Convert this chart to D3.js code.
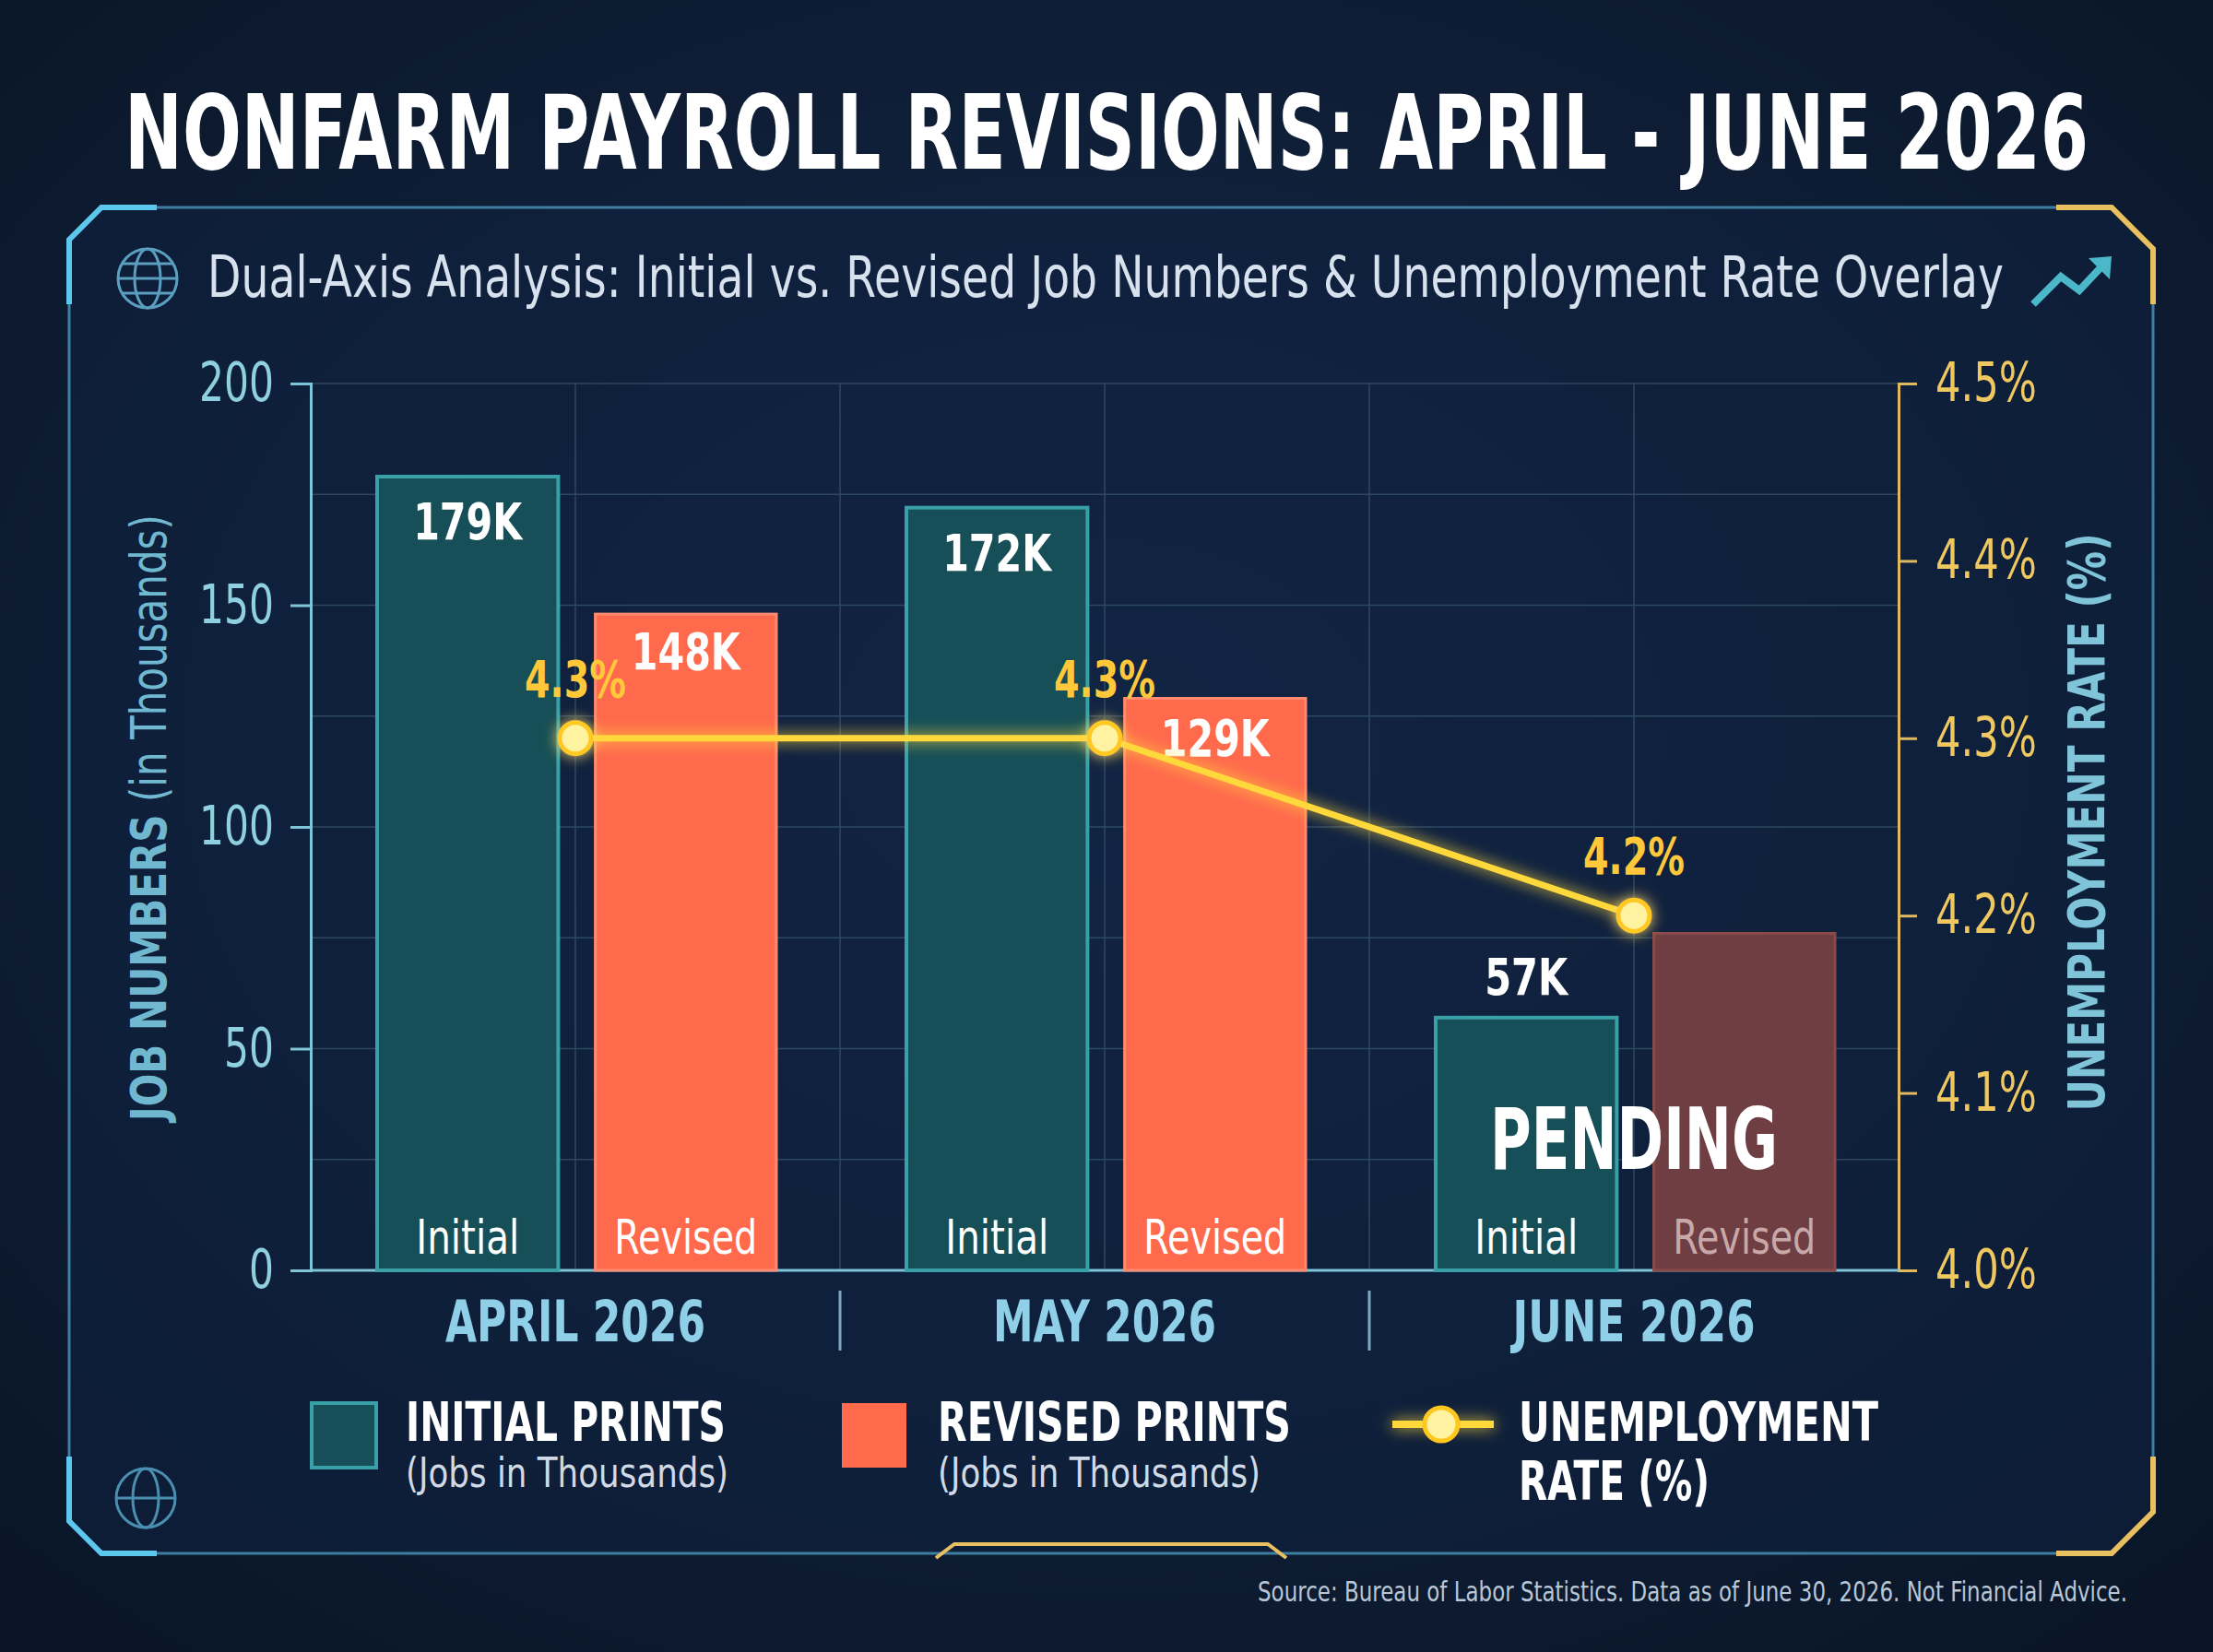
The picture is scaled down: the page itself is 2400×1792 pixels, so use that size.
<!DOCTYPE html>
<html><head><meta charset="utf-8">
<script src="https://cdn.jsdelivr.net/npm/d3@7/dist/d3.min.js"></script>
<style>body{margin:0;background:#0c1a2e;}svg{display:block}</style></head>
<body><svg id="c" width="2400" height="1792"></svg>
<script>
const months=["APRIL 2026","MAY 2026","JUNE 2026"];
const initialJobs=[179,172,57];
const revisedJobs=[148,129,76];
const revisedPending=[false,false,true];
const unemployment=[4.3,4.3,4.2];
const jobTicks=[0,50,100,150,200];
const rateTicks=[4.0,4.1,4.2,4.3,4.4,4.5];

const svg=d3.select("#c");
const F="'DejaVu Sans',sans-serif";
function fit(sel,w){sel.attr("textLength",w).attr("lengthAdjust","spacingAndGlyphs");return sel;}
const defs=svg.append("defs");
const bg=defs.append("radialGradient").attr("id","bg").attr("cx","50%").attr("cy","45%").attr("r","70%");
bg.append("stop").attr("offset","0").attr("stop-color","#16294a");
bg.append("stop").attr("offset","1").attr("stop-color","#0a1628");
const gl=defs.append("filter").attr("id","glow").attr("filterUnits","userSpaceOnUse").attr("x",0).attr("y",0).attr("width",2400).attr("height",1792);
gl.append("feGaussianBlur").attr("stdDeviation",8).attr("result","b");
const m=gl.append("feMerge");m.append("feMergeNode").attr("in","b");m.append("feMergeNode").attr("in","SourceGraphic");
svg.append("rect").attr("width",2400).attr("height",1792).attr("fill","url(#bg)");

// frame
svg.append("path").attr("d","M110,225 H2290 L2335,270 V1640 L2290,1685 H110 L75,1650 V260 Z")
 .attr("fill","#0f2140").attr("fill-opacity",0.6).attr("stroke","#3e7ea0").attr("stroke-width",3);
svg.append("path").attr("d","M75,330 V260 L110,225 H170").attr("fill","none").attr("stroke","#5cc8ee").attr("stroke-width",6);
svg.append("path").attr("d","M2230,225 H2290 L2335,270 V330").attr("fill","none").attr("stroke","#e8c060").attr("stroke-width",6);
svg.append("path").attr("d","M75,1580 V1650 L110,1685 H170").attr("fill","none").attr("stroke","#5cc8ee").attr("stroke-width",6);
svg.append("path").attr("d","M2230,1685 H2290 L2335,1640 V1580").attr("fill","none").attr("stroke","#e8c060").attr("stroke-width",6);
svg.append("path").attr("d","M1015,1690 L1035,1675 H1375 L1395,1690").attr("fill","none").attr("stroke","#e8c060").attr("stroke-width",4);

// title
fit(svg.append("text").attr("x",135).attr("y",183).attr("fill","#fff")
 .attr("font-family",F).attr("font-weight","bold").attr("font-size",112).text("NONFARM PAYROLL REVISIONS: APRIL - JUNE 2026"),2130);
fit(svg.append("text").attr("x",225).attr("y",322).attr("fill","#d8e2ee").attr("font-family",F).attr("font-size",62)
 .text("Dual-Axis Analysis: Initial vs. Revised Job Numbers & Unemployment Rate Overlay"),1948);
const gI=svg.append("g").attr("transform","translate(160,302)").attr("stroke","#5a9ec0").attr("fill","none").attr("stroke-width",3);
gI.append("circle").attr("r",32);gI.append("ellipse").attr("rx",14).attr("ry",32);gI.append("line").attr("x1",-32).attr("x2",32);
gI.append("line").attr("x1",-28).attr("x2",28).attr("y1",-16).attr("y2",-16);gI.append("line").attr("x1",-28).attr("x2",28).attr("y1",16).attr("y2",16);
svg.append("path").attr("d","M2205,330 L2235,300 L2255,315 L2285,283").attr("stroke","#4ab8c8").attr("stroke-width",8).attr("fill","none");
svg.append("path").attr("d","M2265,280 L2290,278 L2288,303Z").attr("fill","#4ab8c8");
const gI2=svg.append("g").attr("transform","translate(158,1625)").attr("stroke","#4a8eb0").attr("fill","none").attr("stroke-width",3);
gI2.append("circle").attr("r",32);gI2.append("ellipse").attr("rx",14).attr("ry",32);gI2.append("line").attr("x1",-32).attr("x2",32);

// scales
const L=337,R=2059,T=416,B=1378;
const x=d3.scaleBand().domain(months).range([L,R]);
const sub=d3.scaleBand().domain(["i","r"]).range([72,505]).paddingInner(0.17);
const y=d3.scaleLinear().domain([0,200]).range([B,T]);
const y2=d3.scaleLinear().domain([4.0,4.5]).range([B,T]);

const grid=svg.append("g").attr("stroke","#3a5a6e").attr("stroke-width",1.5).attr("opacity",0.7);
d3.range(0,201,25).forEach(v=>grid.append("line").attr("x1",L).attr("x2",R).attr("y1",y(v)).attr("y2",y(v)));
months.forEach(mo=>{[x(mo)+x.bandwidth()/2,x(mo)+x.bandwidth()].forEach(xx=>grid.append("line").attr("x1",xx).attr("x2",xx).attr("y1",T).attr("y2",B));});

const ax=svg.append("g").attr("transform",`translate(${L},0)`).call(d3.axisLeft(y).tickValues(jobTicks).tickSize(22).tickPadding(18));
ax.select(".domain").attr("stroke","#7fc4d8").attr("stroke-width",3);
ax.selectAll("line").attr("stroke","#7fc4d8").attr("stroke-width",3);
ax.selectAll("text").attr("fill","#8fd0e0").attr("font-family",F).attr("font-size",58).each(function(d){fit(d3.select(this),String(d).length*27);});
const ax2=svg.append("g").attr("transform",`translate(${R},0)`).call(d3.axisRight(y2).tickValues(rateTicks).tickSize(20).tickPadding(20).tickFormat(d=>d.toFixed(1)+"%"));
ax2.select(".domain").attr("stroke","#e0b860").attr("stroke-width",3);
ax2.selectAll("line").attr("stroke","#e0b860").attr("stroke-width",3);
ax2.selectAll("text").attr("fill","#f0c860").attr("font-family",F).attr("font-size",58).each(function(){fit(d3.select(this),110);});
svg.append("line").attr("x1",L).attr("x2",R).attr("y1",B).attr("y2",B).attr("stroke","#7fc4d8").attr("stroke-width",3);

fit(svg.append("text").attr("transform","translate(180,887) rotate(-90)").attr("text-anchor","middle").attr("fill","#6fb8d0")
 .attr("font-family",F).attr("font-size",54).html("<tspan font-weight='bold'>JOB NUMBERS</tspan> (in Thousands)"),658);
fit(svg.append("text").attr("transform","translate(2282,892) rotate(-90)").attr("text-anchor","middle").attr("fill","#7fc4d8")
 .attr("font-family",F).attr("font-weight","bold").attr("font-size",56).text("UNEMPLOYMENT RATE (%)"),627);

const monthW=[282,242,263];
months.forEach((mo,i)=>{
  const x0=x(mo), w=sub.bandwidth();
  svg.append("rect").attr("x",x0+sub("i")).attr("y",y(initialJobs[i])).attr("width",w).attr("height",B-y(initialJobs[i]))
   .attr("fill","#164f57").attr("stroke","#3aa0a8").attr("stroke-width",4);
  const p=revisedPending[i];
  svg.append("rect").attr("x",x0+sub("r")).attr("y",y(revisedJobs[i])).attr("width",w).attr("height",B-y(revisedJobs[i]))
   .attr("fill",p?"#6e3e42":"#ff6a4d").attr("stroke",p?"#8a4a4a":"#ff8a70").attr("stroke-width",3);
  fit(svg.append("text").attr("x",x0+sub("i")+w/2).attr("y",B-18).attr("text-anchor","middle").attr("fill","#fff").attr("font-family",F).attr("font-size",52).text("Initial"),112);
  fit(svg.append("text").attr("x",x0+sub("r")+w/2).attr("y",B-18).attr("text-anchor","middle").attr("fill",p?"#c8a8a8":"#fff").attr("font-family",F).attr("font-size",52).text("Revised"),155);
  fit(svg.append("text").attr("x",x0+sub("i")+w/2).attr("y",y(initialJobs[i])+(i==2?-25:68)).attr("text-anchor","middle").attr("fill","#fff").attr("font-family",F).attr("font-weight","bold").attr("font-size",56).text(initialJobs[i]+"K"),i==2?90:118);
  if(!p) fit(svg.append("text").attr("x",x0+sub("r")+w/2).attr("y",y(revisedJobs[i])+(i==0?60:62)).attr("text-anchor","middle").attr("fill","#fff").attr("font-family",F).attr("font-weight","bold").attr("font-size",56).text(revisedJobs[i]+"K"),118);
  fit(svg.append("text").attr("x",x0+x.bandwidth()/2).attr("y",1455).attr("text-anchor","middle").attr("fill","#8fd0e8").attr("font-family",F).attr("font-weight","bold").attr("font-size",62).text(mo),monthW[i]);
  if(i>0) svg.append("line").attr("x1",x0).attr("x2",x0).attr("y1",1400).attr("y2",1465).attr("stroke","#7fa8c0").attr("stroke-width",3);
});
fit(svg.append("text").attr("x",x(months[2])+x.bandwidth()/2).attr("y",1268).attr("text-anchor","middle").attr("fill","#fff").attr("font-family",F).attr("font-weight","bold").attr("font-size",92).text("PENDING"),312);

const cx=d=>x(d)+x.bandwidth()/2;
const line=d3.line().x((d,i)=>cx(months[i])).y(d=>y2(d));
svg.append("path").datum(unemployment).attr("d",line).attr("fill","none").attr("stroke","#ffd83a").attr("stroke-width",7).attr("filter","url(#glow)");
unemployment.forEach((u,i)=>{
  svg.append("circle").attr("cx",cx(months[i])).attr("cy",y2(u)).attr("r",17).attr("fill","#fff2a0").attr("stroke","#ffc820").attr("stroke-width",5).attr("filter","url(#glow)");
  fit(svg.append("text").attr("x",cx(months[i])).attr("y",y2(u)-45).attr("text-anchor","middle").attr("fill","#ffc83a").attr("font-family",F).attr("font-weight","bold").attr("font-size",56).text(u.toFixed(1)+"%"),110);
});

const lg=svg.append("g").attr("font-family",F);
lg.append("rect").attr("x",338).attr("y",1522).attr("width",70).attr("height",70).attr("fill","#164f57").attr("stroke","#3aa0a8").attr("stroke-width",4);
fit(lg.append("text").attr("x",440).attr("y",1563).attr("fill","#fff").attr("font-weight","bold").attr("font-size",58).text("INITIAL PRINTS"),347);
fit(lg.append("text").attr("x",440).attr("y",1613).attr("fill","#d0dae6").attr("font-size",44).text("(Jobs in Thousands)"),350);
lg.append("rect").attr("x",913).attr("y",1522).attr("width",70).attr("height",70).attr("fill","#ff6a4d");
fit(lg.append("text").attr("x",1017).attr("y",1563).attr("fill","#fff").attr("font-weight","bold").attr("font-size",58).text("REVISED PRINTS"),383);
fit(lg.append("text").attr("x",1017).attr("y",1613).attr("fill","#d0dae6").attr("font-size",44).text("(Jobs in Thousands)"),350);
lg.append("line").attr("x1",1510).attr("x2",1620).attr("y1",1545).attr("y2",1545).attr("stroke","#ffd83a").attr("stroke-width",8).attr("filter","url(#glow)");
lg.append("circle").attr("cx",1563).attr("cy",1545).attr("r",18).attr("fill","#fff2a0").attr("stroke","#ffc820").attr("stroke-width",5);
fit(lg.append("text").attr("x",1647).attr("y",1563).attr("fill","#fff").attr("font-weight","bold").attr("font-size",58).text("UNEMPLOYMENT"),390);
fit(lg.append("text").attr("x",1647).attr("y",1627).attr("fill","#fff").attr("font-weight","bold").attr("font-size",58).text("RATE (%)"),207);

fit(svg.append("text").attr("x",1364).attr("y",1737).attr("fill","#b8c6d6").attr("font-family",F).attr("font-size",30)
 .text("Source: Bureau of Labor Statistics. Data as of June 30, 2026. Not Financial Advice."),943);
</script></body></html>
